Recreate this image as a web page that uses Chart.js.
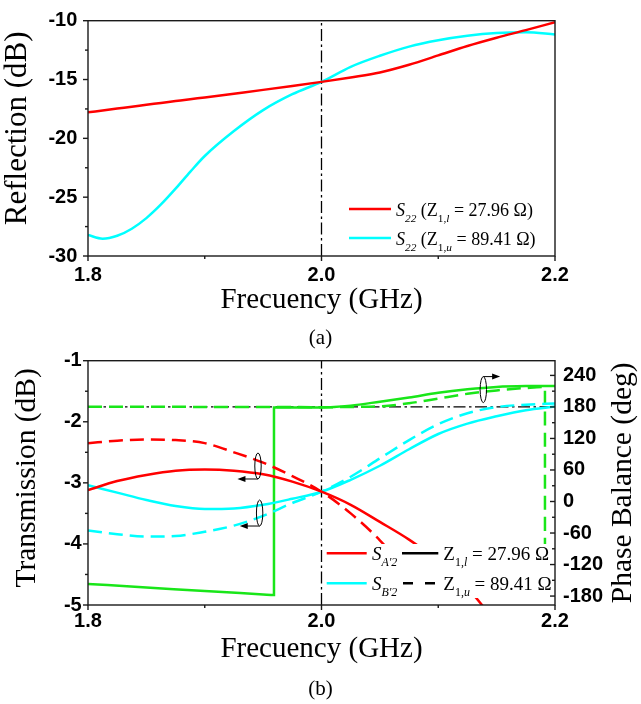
<!DOCTYPE html>
<html>
<head>
<meta charset="utf-8">
<script src="https://cdn.jsdelivr.net/npm/chart.js@4.4.0/dist/chart.umd.min.js"></script>
<style>
  html, body { margin: 0; padding: 0; background: #fff; }
  #page { position: relative; width: 641px; height: 704px; overflow: hidden; background: #fff; }
  canvas { position: absolute; left: 0; }
  #chartA { top: 0; }
  #chartB { top: 340px; }
  .cap { position: absolute; left: 0; width: 641px; text-align: center; font: 21px "Liberation Serif", serif; line-height: 24px; color: #000; }
</style>
</head>
<body>
<div id="page">
  <canvas id="chartA" width="641" height="325"></canvas>
  <canvas id="chartB" width="641" height="364"></canvas>
  <div class="cap" style="top: 325px;">(a)</div>
  <div class="cap" style="top: 676px;">(b)</div>
</div>
<script>
// frequency axis (GHz), shared by both panels
const freqTicks = [1.8, 2.0, 2.2];
const freqMinor = [1.9, 2.1];
const freqLabels = ['1.8', '2.0', '2.2'];
const centerFreq = 2.0;

// (a) output reflection S22
const reflFreq = [1.8, 1.8125, 1.825, 1.8375, 1.85, 1.8625, 1.875, 1.8875, 1.9, 1.925, 1.95, 1.975, 2.0,
  2.025, 2.05, 2.075, 2.1, 2.125, 2.15, 2.175, 2.2];
const s22Low = [-17.79, -17.63, -17.47, -17.31, -17.15, -16.99, -16.83, -16.67, -16.52, -16.2, -15.88, -15.55, -15.2,
  -14.82, -14.4, -13.75, -12.95, -12.15, -11.45, -10.8, -10.13];
const s22High = [-28.22, -28.53, -28.28, -27.68, -26.78, -25.62, -24.28, -22.85, -21.5, -19.38, -17.6, -16.25, -15.2,
  -13.92, -12.98, -12.2, -11.66, -11.28, -11.05, -10.98, -11.17];
const reflTicks = [-30, -25, -20, -15, -10];
const reflMinor = [-27.5, -22.5, -17.5, -12.5];
const reflLabels = ['-30', '-25', '-20', '-15', '-10'];

// (b) transmission S_A'2 / S_B'2 and phase balance
const transFreq = [1.8, 1.825, 1.85, 1.875, 1.9, 1.925, 1.95, 1.975, 2.0, 2.025, 2.05, 2.075, 2.1, 2.125, 2.15, 2.175, 2.2];
const sA2Low = [-3.12, -2.97, -2.87, -2.80, -2.78, -2.80, -2.86, -2.98, -3.145, -3.36, -3.64, -3.93, -4.28, -4.72, -5.3, null, null];
const sA2High = [-2.35, -2.31, -2.29, -2.30, -2.35, -2.50, -2.67, -2.89, -3.145, -3.50, -3.94, -4.48, null, null, null, null, null];
const sB2Low = [-3.04, -3.16, -3.28, -3.38, -3.43, -3.42, -3.36, -3.26, -3.145, -2.95, -2.72, -2.45, -2.20, -2.03, -1.91, -1.81, -1.75];
const sB2High = [-3.78, -3.84, -3.88, -3.87, -3.80, -3.70, -3.54, -3.33, -3.145, -2.90, -2.60, -2.30, -2.04, -1.86, -1.76, -1.72, -1.70];

// phase balance wraps at +/-180 deg, hence the repeated frequencies
const phaseFreqLow = [1.8, 1.85, 1.9, 1.95, 1.9593, 1.9593, 1.975, 2.0, 2.025, 2.05, 2.075, 2.1, 2.125, 2.15, 2.175, 2.2];
const phaseLow = [-157, -163.5, -170.5, -176.8, -178, 179, 179, 179, 182.5, 190, 198, 207, 213.5, 218, 219.7, 220];
const phaseFreqHigh = [1.8, 1.85, 1.9, 1.95, 2.0, 2.025, 2.05, 2.075, 2.1, 2.125, 2.15, 2.175, 2.1914, 2.1914];
const phaseHigh = [180.5, 180.5, 180, 180, 179.5, 180, 181, 187, 196, 205, 211.5, 216, 218, -150];
const balancePhase = 180;

const transTicks = [-5, -4, -3, -2, -1];
const transMinor = [-4.5, -3.5, -2.5, -1.5];
const transLabels = ['-5', '-4', '-3', '-2', '-1'];
const phaseTicks = [-180, -120, -60, 0, 60, 120, 180, 240];
const phaseMinor = [-150, -90, -30, 30, 90, 150, 210];
const phaseLabels = ['-180', '-120', '-60', '0', '60', '120', '180', '240'];

const RED = '#ff0000', CYAN = '#00ffff', GREEN = '#19e619', BLACK = '#000';
const DASH = [14, 7];
const DASHDOT = [12, 3.5, 2.5, 3.5];

const pts = (xs, ys) => xs.map((x, i) => ({ x, y: ys[i] }));

function line(data, color, dash, yAxisID, order) {
  return {
    data, yAxisID, order,
    borderColor: color, borderDash: dash, borderWidth: 2.5,
    pointRadius: 0, fill: false, cubicInterpolationMode: 'monotone',
  };
}

function refLine(data, yAxisID) {
  return { data, yAxisID, order: 20, borderColor: BLACK, borderDash: DASHDOT, borderWidth: 1.3, pointRadius: 0, fill: false };
}

function axis(position, min, max, major, minor, labels, o) {
  return {
    type: 'linear', position, min, max,
    grid: { display: false, drawTicks: false },
    border: { display: false },
    afterBuildTicks: s => {
      s.ticks = major.concat(minor).sort((a, b) => a - b).map(value => ({ value }));
    },
    afterFit: s => {
      if (o.width !== undefined) s.width = o.width;
      if (o.height !== undefined) s.height = o.height;
    },
    ticks: {
      autoSkip: false, maxRotation: 0, minRotation: 0, padding: o.pad, color: '#000',
      font: { family: 'Liberation Sans', weight: 'bold', size: 20, lineHeight: 1 },
      callback: v => {
        const i = major.indexOf(v);
        return i < 0 ? '' : labels[i];
      },
    },
    title: o.title || { display: false },
  };
}

function freqTitle(padBottom) {
  return {
    display: true, text: 'Frecuency (GHz)', color: '#000',
    font: { family: 'Liberation Serif', size: 29, lineHeight: 1.2 },
    padding: { top: 0, bottom: padBottom },
  };
}

// box, outward/inward tick marks
const axisFrame = {
  id: 'axisFrame',
  afterDatasetsDraw(chart, args, opts) {
    const { ctx, chartArea: a } = chart;
    ctx.save();
    ctx.strokeStyle = '#1a1a1a';
    ctx.lineWidth = 1.4;
    ctx.setLineDash([]);
    ctx.strokeRect(a.left, a.top, a.right - a.left, a.bottom - a.top);
    for (const m of opts.marks) {
      const s = chart.scales[m.id];
      const edge = m.id === 'x' ? a.bottom : (m.id === 'y' ? a.left : a.right);
      const draw = (vals, len) => vals.forEach(v => {
        const p = s.getPixelForValue(v);
        ctx.beginPath();
        if (m.id === 'x') { ctx.moveTo(p, edge); ctx.lineTo(p, edge + m.dir * len); }
        else { ctx.moveTo(edge, p); ctx.lineTo(edge + m.dir * len, p); }
        ctx.stroke();
      });
      draw(m.major, 5);
      draw(m.minor, 3);
    }
    ctx.restore();
  },
};

// rotated axis titles
const sideTitles = {
  id: 'sideTitles',
  afterDraw(chart, args, opts) {
    const { ctx, chartArea: a } = chart;
    for (const t of opts.items) {
      ctx.save();
      ctx.translate(t.x, (a.top + a.bottom) / 2 + t.dy);
      ctx.rotate(-Math.PI / 2);
      ctx.font = t.size + 'px "Liberation Serif"';
      ctx.textAlign = 'center';
      ctx.textBaseline = 'middle';
      ctx.fillStyle = '#000';
      ctx.fillText(t.text, 0, 0);
      ctx.restore();
    }
  },
};

function richText(ctx, x, y, parts, size) {
  for (const p of parts) {
    const fs = p.sub ? size * 0.63 : size;
    ctx.font = (p.it ? 'italic ' : '') + fs + 'px "Liberation Serif"';
    ctx.fillText(p.t, x, y + (p.sub ? 6.5 : 0));
    x += ctx.measureText(p.t).width;
  }
}

// legend with subscripts, optional white backing
const seriesKey = {
  id: 'seriesKey',
  afterDatasetsDraw(chart, args, opts) {
    const { ctx, chartArea: a } = chart;
    ctx.save();
    if (opts.box) {
      const [x0, y0, x1, y1] = opts.box;
      ctx.fillStyle = '#fff';
      ctx.fillRect(a.left + x0, a.top + y0, x1 - x0, y1 - y0);
    }
    ctx.fillStyle = '#000';
    ctx.textBaseline = 'alphabetic';
    ctx.textAlign = 'left';
    for (const row of opts.rows) {
      const y = a.top + row.y;
      for (const l of row.lines) {
        ctx.strokeStyle = l.color;
        ctx.lineWidth = 2.5;
        ctx.setLineDash(l.dash || []);
        ctx.beginPath();
        ctx.moveTo(a.left + l.x0, y);
        ctx.lineTo(a.left + l.x1, y);
        ctx.stroke();
      }
      ctx.setLineDash([]);
      for (const t of row.texts) richText(ctx, a.left + t.x, y + 6.5, t.parts, opts.size);
    }
    ctx.restore();
  },
};

// small loops with arrows pointing at the axis a curve pair belongs to
const loopMarks = {
  id: 'loopMarks',
  afterDatasetsDraw(chart, args, opts) {
    const { ctx } = chart;
    const xs = chart.scales.x;
    ctx.save();
    ctx.strokeStyle = '#000';
    ctx.fillStyle = '#000';
    ctx.lineWidth = 1;
    ctx.setLineDash([]);
    for (const m of opts.items) {
      const cx = xs.getPixelForValue(m.x);
      const cy = chart.scales[m.axis].getPixelForValue(m.y);
      const tip = xs.getPixelForValue(m.tip);
      ctx.beginPath();
      ctx.ellipse(cx, cy, 3.2, 13, 0, 0, Math.PI * 2);
      ctx.stroke();
      const ay = m.up ? cy - 13 : cy + 13;
      const d = Math.sign(tip - cx);
      ctx.beginPath();
      ctx.moveTo(cx, ay);
      ctx.lineTo(tip - d * 6, ay);
      ctx.stroke();
      ctx.beginPath();
      ctx.moveTo(tip, ay);
      ctx.lineTo(tip - d * 8, ay - 3);
      ctx.lineTo(tip - d * 8, ay + 3);
      ctx.closePath();
      ctx.fill();
    }
    ctx.restore();
  },
};

const base = {
  responsive: false,
  animation: false,
  devicePixelRatio: 1,
  events: [],
};

// ---- (a) Reflection ----
new Chart(document.getElementById('chartA'), {
  type: 'line',
  data: {
    datasets: [
      line(pts(reflFreq, s22Low), RED, [], 'y', 1),
      line(pts(reflFreq, s22High), CYAN, [], 'y', 2),
      refLine([{ x: centerFreq, y: reflTicks[0] }, { x: centerFreq, y: reflTicks[reflTicks.length - 1] }], 'y'),
    ],
  },
  options: {
    ...base,
    layout: { padding: { top: 11.7, right: 86, left: 0, bottom: 0 } },
    scales: {
      x: axis('bottom', 1.8, 2.2, freqTicks, freqMinor, freqLabels, { height: 69, pad: 9.5, title: freqTitle(7.6) }),
      y: axis('left', -30, -10, reflTicks, reflMinor, reflLabels, { width: 88, pad: 10.7 }),
    },
    plugins: {
      legend: { display: false },
      tooltip: { enabled: false },
      axisFrame: {
        marks: [
          { id: 'x', dir: 1, major: freqTicks, minor: freqMinor },
          { id: 'y', dir: -1, major: reflTicks, minor: reflMinor },
        ],
      },
      sideTitles: { items: [{ text: 'Reflection (dB)', x: 17.5, dy: -10, size: 31 }] },
      seriesKey: {
        size: 18,
        rows: [
          { y: 188.3, lines: [{ x0: 261, x1: 303, color: RED }],
            texts: [{ x: 308, parts: [{ t: 'S', it: true }, { t: '22', it: true, sub: true }, { t: ' (Z' }, { t: '1,', sub: true }, { t: 'l', sub: true, it: true }, { t: ' = 27.96 \u03A9)' }] }] },
          { y: 217.3, lines: [{ x0: 261, x1: 303, color: CYAN }],
            texts: [{ x: 308, parts: [{ t: 'S', it: true }, { t: '22', it: true, sub: true }, { t: ' (Z' }, { t: '1,', sub: true }, { t: 'u', sub: true, it: true }, { t: ' = 89.41 \u03A9)' }] }] },
        ],
      },
    },
  },
  plugins: [seriesKey, axisFrame, sideTitles],
});

// ---- (b) Transmission and phase balance ----
new Chart(document.getElementById('chartB'), {
  type: 'line',
  data: {
    datasets: [
      line(pts(transFreq, sA2Low), RED, [], 'y', 1),
      line(pts(transFreq, sA2High), RED, DASH, 'y', 2),
      line(pts(transFreq, sB2Low), CYAN, [], 'y', 3),
      line(pts(transFreq, sB2High), CYAN, DASH, 'y', 4),
      line(pts(phaseFreqLow, phaseLow), GREEN, [], 'y1', 5),
      line(pts(phaseFreqHigh, phaseHigh), GREEN, DASH, 'y1', 6),
      refLine([{ x: centerFreq, y: transTicks[0] }, { x: centerFreq, y: transTicks[transTicks.length - 1] }], 'y'),
      refLine([{ x: freqTicks[0], y: balancePhase }, { x: freqTicks[freqTicks.length - 1], y: balancePhase }], 'y1'),
    ],
  },
  options: {
    ...base,
    layout: { padding: { top: 20.7, right: 0, left: 0, bottom: 0 } },
    scales: {
      x: axis('bottom', 1.8, 2.2, freqTicks, freqMinor, freqLabels, { height: 99, pad: 6, title: freqTitle(37.6) }),
      y: axis('left', -5, -1, transTicks, transMinor, transLabels, { width: 88, pad: 6.3 }),
      y1: axis('right', -197, 268, phaseTicks, phaseMinor, phaseLabels, { width: 86, pad: 8 }),
    },
    plugins: {
      legend: { display: false },
      tooltip: { enabled: false },
      axisFrame: {
        marks: [
          { id: 'x', dir: 1, major: freqTicks, minor: freqMinor },
          { id: 'y', dir: -1, major: transTicks, minor: transMinor },
          { id: 'y1', dir: -1, major: phaseTicks, minor: phaseMinor },
        ],
      },
      sideTitles: {
        items: [
          { text: 'Transmission (dB)', x: 27, dy: -5, size: 29.5 },
          { text: 'Phase Balance (deg)', x: 623, dy: 0, size: 29.5 },
        ],
      },
      loopMarks: {
        items: [
          { axis: 'y', x: 1.9456, y: -2.724, tip: 1.928 },
          { axis: 'y', x: 1.947, y: -3.494, tip: 1.930 },
          { axis: 'y1', x: 2.1386, y: 213, tip: 2.153, up: true },
        ],
      },
      seriesKey: {
        size: 19,
        box: [235, 183.3, 461, 237.3],
        rows: [
          { y: 192.6,
            lines: [{ x0: 238.7, x1: 278.7, color: RED }, { x0: 314, x1: 350.3, color: BLACK }],
            texts: [
              { x: 284, parts: [{ t: 'S', it: true }, { t: "A'2", it: true, sub: true }] },
              { x: 355.3, parts: [{ t: 'Z' }, { t: '1,', sub: true }, { t: 'l', sub: true, it: true }, { t: ' = 27.96 \u03A9' }] },
            ] },
          { y: 222.6,
            lines: [{ x0: 238.7, x1: 278.7, color: CYAN }, { x0: 315, x1: 350.3, color: BLACK, dash: [10, 12] }],
            texts: [
              { x: 284, parts: [{ t: 'S', it: true }, { t: "B'2", it: true, sub: true }] },
              { x: 355.3, parts: [{ t: 'Z' }, { t: '1,', sub: true }, { t: 'u', sub: true, it: true }, { t: ' = 89.41 \u03A9' }] },
            ] },
        ],
      },
    },
  },
  plugins: [loopMarks, seriesKey, axisFrame, sideTitles],
});
</script>
</body>
</html>
